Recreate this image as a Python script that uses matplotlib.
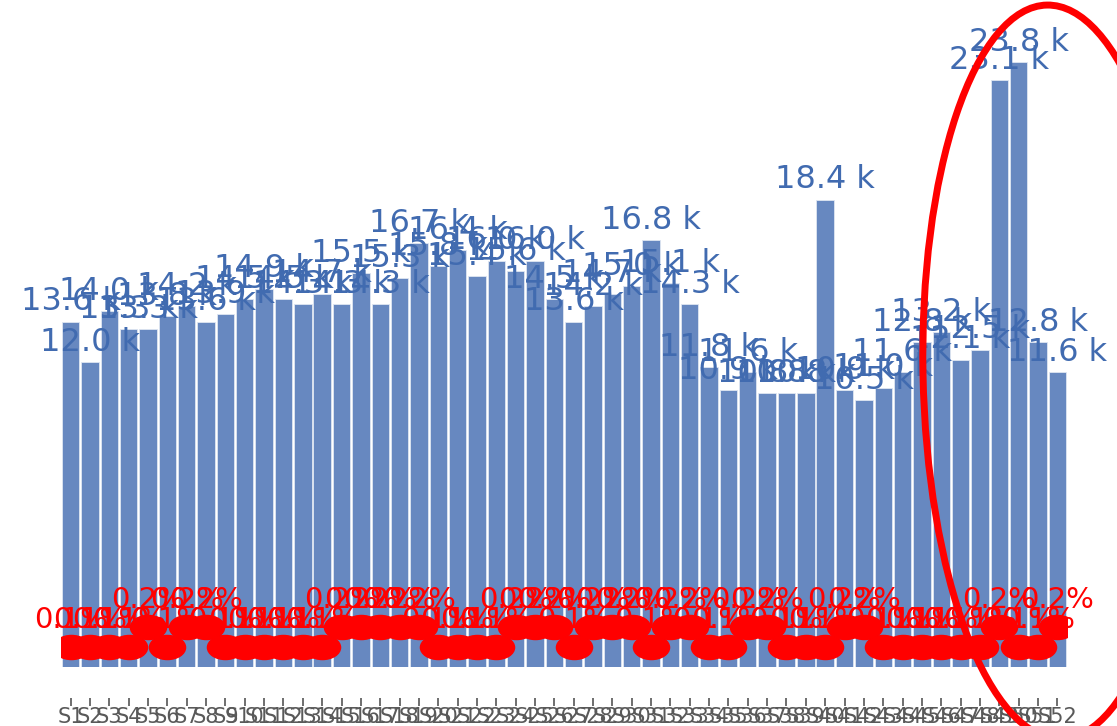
import numpy as np
import matplotlib
matplotlib.use("Agg")
import matplotlib.pyplot as plt
from matplotlib.patches import Ellipse
from matplotlib.path import Path

# data
categories = ["S%d" % i for i in range(1, 53)]
sales_k = [13.6, 12.0, 14.0, 13.3, 13.3, 13.8, 14.2, 13.6, 13.9, 14.5,
           14.9, 14.5, 14.3, 14.7, 14.3, 15.5, 14.3, 15.3, 16.7, 15.8,
           16.4, 15.4, 16.0, 15.6, 16.0, 14.5, 13.6, 14.2, 14.7, 15.0,
           16.8, 15.1, 14.3, 11.8, 10.9, 11.6, 10.8, 10.8, 10.8, 18.4,
           10.9, 10.5, 11.0, 11.6, 12.8, 13.2, 12.1, 12.5, 23.1, 23.8,
           12.8, 11.6]
share_pct = [0.1, 0.1, 0.1, 0.1, 0.2, 0.1, 0.2, 0.2, 0.1, 0.1,
             0.1, 0.1, 0.1, 0.1, 0.2, 0.2, 0.2, 0.2, 0.2, 0.1,
             0.1, 0.1, 0.1, 0.2, 0.2, 0.2, 0.1, 0.2, 0.2, 0.2,
             0.1, 0.2, 0.2, 0.1, 0.1, 0.2, 0.2, 0.1, 0.1, 0.1,
             0.2, 0.2, 0.1, 0.1, 0.1, 0.1, 0.1, 0.1, 0.2, 0.1,
             0.1, 0.2]

bar_col = "#6788c0"
lab_col = "#416bb0"
red = "#ff0000"

fig = plt.figure(figsize=(11.17, 7.26), dpi=100)
ax = fig.add_axes([61 / 1117, 59 / 726, 1006 / 1117, 667 / 726])
x = np.arange(len(categories))

ax.bar(x, sales_k, width=0.9, color=bar_col, edgecolor="#dfe6f2", linewidth=0.6)
ax.set_xlim(-0.5, len(categories) - 0.5)
ax.set_ylim(0, 26.26)
for xi, v in zip(x, sales_k):
    ax.annotate("%.1f k" % v, (xi, v), xytext=(0, 3), textcoords="offset points",
                ha="center", va="bottom", fontsize=23, color=lab_col, zorder=5)

for s in ax.spines.values():
    s.set_visible(False)
ax.spines["bottom"].set_position(("outward", 22))
ax.set_yticks([])
ax.set_xticks(x)
ax.set_xticklabels(categories, fontsize=15, color="#595959")
ax.tick_params(axis="x", length=6, width=1.2, color="#555555", pad=1)

# percentage series on its own scale
ax2 = ax.twinx()
ax2.set_ylim(0, 3.335)
ax2.set_axis_off()
circ = Path.unit_circle()
oval = Path(circ.vertices * np.array([1.5, 1.0]), circ.codes)
ax2.plot(x, share_pct, color=red, alpha=0.3, linewidth=3, zorder=2)
ax2.plot(x, share_pct, linestyle="none", marker=oval, markersize=26,
         color=red, zorder=3)
for xi, p in zip(x, share_pct):
    ax2.annotate("%.1f%%" % p, (xi, p), xytext=(0, 9), textcoords="offset points",
                 ha="center", va="bottom", fontsize=21, color=red, zorder=4)

# highlight ring on the last bars
ring = Ellipse((10.54, 3.54), 2.62, 7.34, angle=1.1, fill=False,
               edgecolor=red, linewidth=5, transform=fig.dpi_scale_trans,
               clip_on=False)
fig.add_artist(ring)

fig.savefig("out.png", dpi=100)
